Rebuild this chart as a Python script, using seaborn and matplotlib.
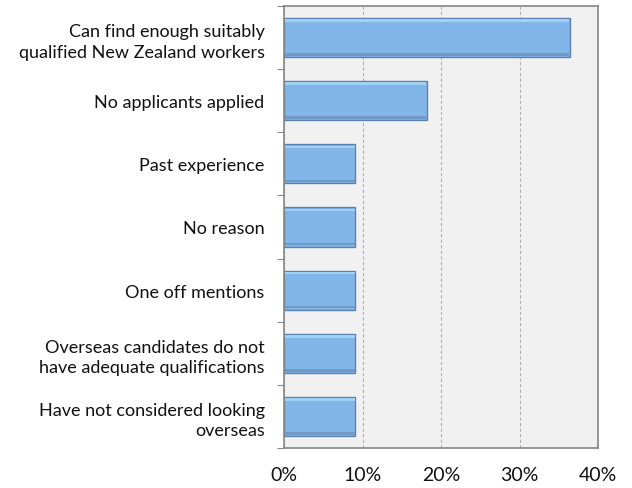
import pandas as pd
import matplotlib.pyplot as plt
import seaborn as sns
from matplotlib.ticker import PercentFormatter, FixedLocator

# Data
reasons = [
    "Can find enough suitably\nqualified New Zealand workers",
    "No applicants applied",
    "Past experience",
    "No reason",
    "One off mentions",
    "Overseas candidates do not\nhave adequate qualifications",
    "Have not considered looking\noverseas",
]
shares = [36.4, 18.2, 9.1, 9.1, 9.1, 9.1, 9.1]
x_ticks = [0, 10, 20, 30, 40]

df = pd.DataFrame({"reason": reasons, "share": shares})

sns.set_style("white")
plt.rcParams['font.family'] = ['Lato', 'DejaVu Sans']

fig = plt.figure(figsize=(6.32, 4.89), dpi=100)
ax = fig.add_axes([0.4494, 0.0818, 0.4968, 0.9039])
ax.set_facecolor("#f1f1f1")

sns.barplot(data=df, x="share", y="reason", color="#82b5e8", width=0.62,
            edgecolor="#5a82ad", linewidth=1.0, saturation=1, ax=ax)

# soft highlight/shadow strips for a bevel-like look
for bar in ax.patches:
    x0, y0 = bar.get_x(), bar.get_y()
    w, h = bar.get_width(), bar.get_height()
    ax.fill_between([x0 + 0.1, x0 + w - 0.1], y0 + 0.02, y0 + h * 0.10,
                    color="#9fd0f5", linewidth=0, zorder=3)
    ax.fill_between([x0 + 0.1, x0 + w - 0.1], y0 + h * 0.90, y0 + h - 0.02,
                    color="#7099c6", linewidth=0, zorder=3)

ax.set_xlim(0, 40)
ax.set_ylim(len(reasons) - 0.5, -0.5)
ax.xaxis.set_major_locator(FixedLocator(x_ticks))
ax.xaxis.set_major_formatter(PercentFormatter(decimals=0))
ax.grid(axis="x", color="#b0b0b0", linestyle=(0, (3, 2)), linewidth=0.8)
ax.set_axisbelow(True)

ax.set_xlabel("")
ax.set_ylabel("")
ax.tick_params(axis="y", length=0, pad=14, labelsize=13, labelcolor="#111111")
ax.tick_params(axis="x", length=3, width=0.8, color="#888888", pad=10, labelsize=14,
               labelcolor="#111111")
ax.set_yticks(range(len(reasons)))
ax.set_yticklabels(reasons, ha="right", linespacing=1.35)

# category boundary ticks on the left
ax.yaxis.set_minor_locator(FixedLocator([i - 0.5 for i in range(len(reasons) + 1)]))
ax.tick_params(axis="y", which="minor", length=5, width=0.8, color="#888888", left=True)

for side in ["top", "right", "bottom", "left"]:
    ax.spines[side].set_visible(True)
    ax.spines[side].set_color("#868686")
    ax.spines[side].set_linewidth(1.2)

fig.savefig("out.png", dpi=100)
